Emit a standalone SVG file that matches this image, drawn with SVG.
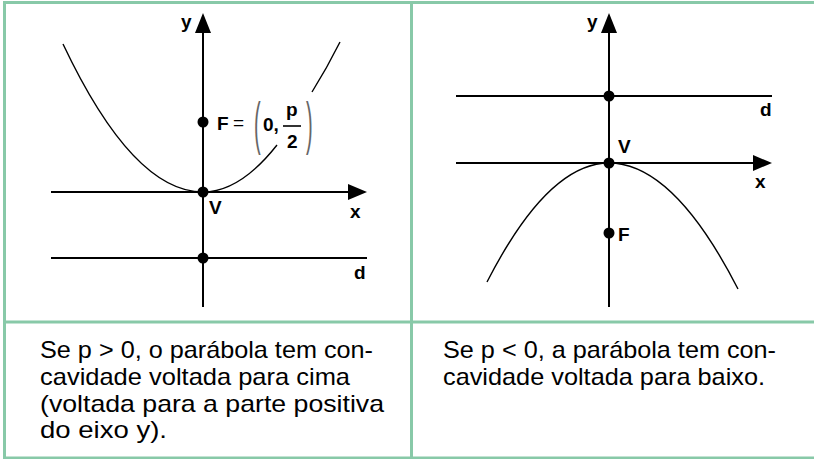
<svg xmlns="http://www.w3.org/2000/svg" width="814" height="459" viewBox="0 0 814 459">
<defs>
<style>
.grid{stroke:#88c9a8;stroke-width:3;fill:none}
.ax{stroke:#000;stroke-width:2;fill:none}
.cv{stroke:#000;stroke-width:1.4;fill:none}
.lb{font-family:"Liberation Sans",Arial,sans-serif;font-weight:bold;font-size:19px;fill:#000}
.tx{font-family:"Liberation Sans",Arial,sans-serif;font-size:24px;fill:#000}
.par{font-family:"Liberation Sans",Arial,sans-serif;font-size:20px;fill:#666}
</style>
</defs>
<rect width="814" height="459" fill="#fff"/>
<g id="table">
<line class="grid" x1="4.5" y1="1" x2="4.5" y2="459"/>
<line class="grid" x1="3" y1="2.5" x2="814" y2="2.5"/>
<line class="grid" x1="411.5" y1="1" x2="411.5" y2="459"/>
<line class="grid" x1="3" y1="322" x2="814" y2="322"/>
<line class="grid" x1="3" y1="458" x2="814" y2="458"/>
</g>
<g id="connectors">
<line class="ax" x1="203" y1="307" x2="203" y2="28"/>
<polygon points="203,13 195,33 211,33"/>
<line class="ax" x1="51" y1="192" x2="352" y2="192"/>
<polygon points="367,192 348,184 348,200"/>
<line class="ax" x1="51" y1="258" x2="367" y2="258"/>
<path class="cv" d="M63,44 Q133,192 203,192 Q240,192 277,145"/>
<path class="cv" d="M312,92 Q327,68 340,42"/>
<line class="ax" x1="609" y1="307" x2="609" y2="28"/>
<polygon points="609,13 601,33 617,33"/>
<line class="ax" x1="456" y1="163" x2="757" y2="163"/>
<polygon points="772,163 753,155 753,171"/>
<line class="ax" x1="456" y1="96" x2="772" y2="96"/>
<path class="cv" d="M487,282 Q548,163 609,163 Q673.5,163 738,289"/>
</g>
<g id="left-graph">
<g id="V1"><circle cx="203" cy="192" r="5.5"/><text class="lb" x="209" y="214">V</text></g>
<g id="F1"><circle cx="203" cy="122" r="5.5"/>
<text class="lb" x="217" y="130">F</text>
<text x="233" y="129" style="font-family:'Liberation Sans',Arial,sans-serif;font-size:19px">=</text>
<text class="par" transform="translate(254,128) scale(1,2.9)" y="5">(</text>
<text class="lb" x="263" y="131">0,</text>
<text class="lb" x="286" y="116">p</text>
<line x1="283" y1="126" x2="301" y2="126" stroke="#000" stroke-width="1.6"/>
<text class="lb" x="287" y="148">2</text>
<text class="par" transform="translate(306,128) scale(1,2.9)" y="5">)</text>
</g>
<g id="D1"><circle cx="203" cy="258" r="5.5"/><text class="lb" x="354" y="279">d</text></g>
<text class="lb" x="181" y="28">y</text>
<text class="lb" x="350" y="218">x</text>
</g>
<g id="right-graph">
<g id="D2"><circle cx="609" cy="96" r="5.5"/><text class="lb" x="760" y="116">d</text></g>
<g id="V2"><circle cx="609" cy="163" r="5.5"/><text class="lb" x="618" y="153">V</text></g>
<g id="F2"><circle cx="609" cy="233" r="5.5"/><text class="lb" x="618" y="241">F</text></g>
<text class="lb" x="587" y="28">y</text>
<text class="lb" x="755" y="188">x</text>
</g>
<g id="caption-left">
<text class="tx" x="40" y="358" textLength="333" lengthAdjust="spacingAndGlyphs">Se p &gt; 0, o parábola tem con-</text>
<text class="tx" x="40" y="385" textLength="310" lengthAdjust="spacingAndGlyphs">cavidade voltada para cima</text>
<text class="tx" x="40" y="412" textLength="344" lengthAdjust="spacingAndGlyphs">(voltada para a parte positiva</text>
<text class="tx" x="40" y="438" textLength="127" lengthAdjust="spacingAndGlyphs">do eixo y).</text>
</g>
<g id="caption-right">
<text class="tx" x="443" y="358" textLength="333" lengthAdjust="spacingAndGlyphs">Se p &lt; 0, a parábola tem con-</text>
<text class="tx" x="443" y="385" textLength="322" lengthAdjust="spacingAndGlyphs">cavidade voltada para baixo.</text>
</g>
</svg>
